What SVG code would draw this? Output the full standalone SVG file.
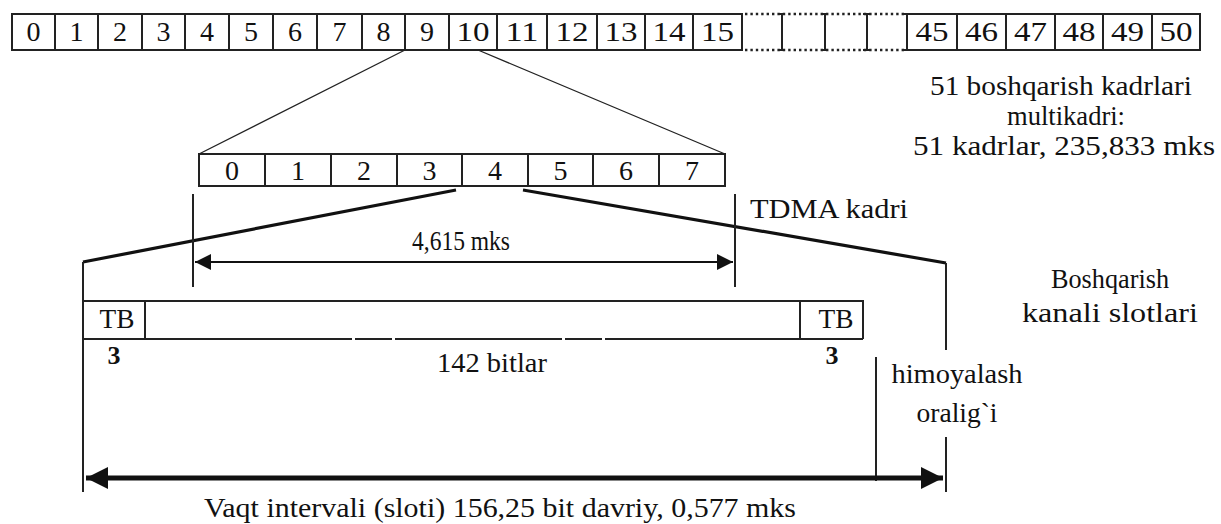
<svg xmlns="http://www.w3.org/2000/svg" width="1221" height="524" viewBox="0 0 1221 524">
<style>
text{font-family:"Liberation Serif","Times New Roman",serif;fill:#111}
.d{font-size:28px;text-anchor:middle}
.t{font-size:27px;text-anchor:middle}
.b{font-size:26px;font-weight:bold;text-anchor:middle}
.box{fill:#fff;stroke:#222;stroke-width:2}
.ln{fill:none;stroke:#222;stroke-width:2}
.thin{fill:none;stroke:#222;stroke-width:1.3}
.thick{fill:none;stroke:#111;stroke-width:3.2}
.dot{fill:none;stroke:#222;stroke-width:2.6;stroke-dasharray:2.4 3}
</style>
<defs>
<marker id="ah" viewBox="0 0 10 10" refX="10" refY="5" markerWidth="20" markerHeight="16" markerUnits="userSpaceOnUse" orient="auto-start-reverse">
<path d="M0,0 L10,5 L0,10 Z" fill="#111"/>
</marker>
<marker id="ahb" viewBox="0 0 10 10" refX="10" refY="5" markerWidth="26" markerHeight="22" markerUnits="userSpaceOnUse" orient="auto-start-reverse">
<path d="M0,0 L10,5 L0,10 Z" fill="#111"/>
</marker>
</defs>
<rect width="1221" height="524" fill="#fff"/>

<g id="multiframe">
<rect class="box" x="12" y="14" width="730" height="36"/>
<path class="ln" d="M55,14V50M98,14V50M142,14V50M185,14V50M229,14V50M273,14V50M317,14V50M362,14V50M405,14V50M449,14V50M497,14V50M547,14V50M597,14V50M645,14V50M693,14V50"/>
<path class="dot" d="M745,14H905M745,50H905"/>
<path class="ln" d="M778,14H782V50H778M821,14H825V50H821M863,14H871M867,14V50M863,50H871M903,14H907M903,50H907"/>
<rect class="box" x="907" y="14" width="293" height="36"/>
<path class="ln" d="M957,14V50M1006,14V50M1055,14V50M1103,14V50M1152,14V50"/>
<text class="d" x="33.5" y="41">0</text>
<text class="d" x="76.5" y="41">1</text>
<text class="d" x="120" y="41">2</text>
<text class="d" x="163.5" y="41">3</text>
<text class="d" x="207" y="41">4</text>
<text class="d" x="251" y="41">5</text>
<text class="d" x="295" y="41">6</text>
<text class="d" x="339.5" y="41">7</text>
<text class="d" x="383.5" y="41">8</text>
<text class="d" x="427" y="41">9</text>
<text class="d" x="473" y="41" textLength="33" lengthAdjust="spacingAndGlyphs">10</text>
<text class="d" x="522" y="41" textLength="33" lengthAdjust="spacingAndGlyphs">11</text>
<text class="d" x="572" y="41" textLength="33" lengthAdjust="spacingAndGlyphs">12</text>
<text class="d" x="621" y="41" textLength="33" lengthAdjust="spacingAndGlyphs">13</text>
<text class="d" x="669" y="41" textLength="33" lengthAdjust="spacingAndGlyphs">14</text>
<text class="d" x="717.5" y="41" textLength="33" lengthAdjust="spacingAndGlyphs">15</text>
<text class="d" x="932" y="41" textLength="33" lengthAdjust="spacingAndGlyphs">45</text>
<text class="d" x="981.5" y="41" textLength="33" lengthAdjust="spacingAndGlyphs">46</text>
<text class="d" x="1030.5" y="41" textLength="33" lengthAdjust="spacingAndGlyphs">47</text>
<text class="d" x="1079" y="41" textLength="33" lengthAdjust="spacingAndGlyphs">48</text>
<text class="d" x="1127.5" y="41" textLength="33" lengthAdjust="spacingAndGlyphs">49</text>
<text class="d" x="1176" y="41" textLength="33" lengthAdjust="spacingAndGlyphs">50</text>
</g>

<g id="multiframe-label">
<text class="t" x="1061" y="95" textLength="262" lengthAdjust="spacingAndGlyphs">51 boshqarish kadrlari</text>
<text class="t" x="1066" y="125" textLength="118" lengthAdjust="spacingAndGlyphs">multikadri:</text>
<text class="t" x="1064" y="155" textLength="302" lengthAdjust="spacingAndGlyphs">51 kadrlar, 235,833 mks</text>
</g>

<g id="tdma-frame">
<rect class="box" x="199" y="154" width="526" height="32"/>
<path class="ln" d="M265,154V186M331,154V186M397,154V186M462,154V186M528,154V186M593,154V186M659,154V186"/>
<text class="d" x="232" y="180">0</text>
<text class="d" x="298" y="180">1</text>
<text class="d" x="364" y="180">2</text>
<text class="d" x="429.5" y="180">3</text>
<text class="d" x="495" y="180">4</text>
<text class="d" x="560.5" y="180">5</text>
<text class="d" x="626" y="180">6</text>
<text class="d" x="692" y="180">7</text>
</g>

<g id="tdma-label">
<text class="t" x="829" y="218" textLength="158" lengthAdjust="spacingAndGlyphs">TDMA kadri</text>
</g>

<g id="slot">
<path class="ln" d="M83,301H863V339M83,339H145M145,301V339M800,301V339H863"/>
<path class="ln" d="M145,339H352M355,339H392M395,339H562M565,339H602M605,339H800"/>
<text class="t" x="117" y="328" textLength="35" lengthAdjust="spacingAndGlyphs">TB</text>
<text class="t" x="836" y="328" textLength="35" lengthAdjust="spacingAndGlyphs">TB</text>
<text class="b" x="114" y="364">3</text>
<text class="b" x="832" y="364">3</text>
<text class="t" x="492" y="372" textLength="110" lengthAdjust="spacingAndGlyphs">142 bitlar</text>
</g>

<g id="slot-label">
<text class="t" x="1110" y="288" textLength="118" lengthAdjust="spacingAndGlyphs">Boshqarish</text>
<text class="t" x="1110" y="322" textLength="176" lengthAdjust="spacingAndGlyphs">kanali slotlari</text>
</g>

<g id="guard-label">
<text class="t" x="957" y="383" textLength="131" lengthAdjust="spacingAndGlyphs">himoyalash</text>
<text class="t" x="957" y="422" textLength="81" lengthAdjust="spacingAndGlyphs">oralig`i</text>
</g>

<g id="duration-labels">
<text class="t" x="461" y="250" textLength="98" lengthAdjust="spacingAndGlyphs">4,615 mks</text>
<text class="t" x="500" y="517" textLength="592" lengthAdjust="spacingAndGlyphs">Vaqt intervali (sloti) 156,25 bit davriy, 0,577 mks</text>
</g>

<g id="connectors">
<path class="thin" d="M405,50L199,154M478,50L725,154"/>
<path class="thick" d="M456,190L83,262M523,190L946,263"/>
<path class="ln" d="M83,262V492M946,263V350M946,437V492M876,357V481"/>
<path class="ln" d="M193,194V287M735,194V287"/>
<line x1="195" y1="262" x2="733" y2="262" stroke="#111" stroke-width="2" marker-start="url(#ah)" marker-end="url(#ah)"/>
<line x1="86" y1="478" x2="943" y2="478" stroke="#111" stroke-width="5" marker-start="url(#ahb)" marker-end="url(#ahb)"/>
</g>
</svg>
